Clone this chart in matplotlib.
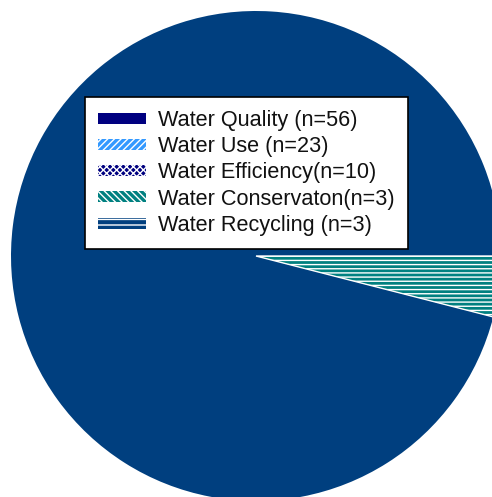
import matplotlib
matplotlib.use("Agg")
import matplotlib.pyplot as plt
from matplotlib.patches import Patch

# Legend categories and counts
categories = ["Water Quality", "Water Use", "Water Efficiency", "Water Conservaton", "Water Recycling"]
counts = [56, 23, 10, 3, 3]
legend_labels = ["Water Quality (n=56)", "Water Use (n=23)", "Water Efficiency(n=10)",
                 "Water Conservaton(n=3)", "Water Recycling (n=3)"]

# Visible slices (percent of the circle)
slice_names = ["Other", "Water Conservaton"]
slice_pct = [96.0, 4.0]

plt.rcParams['font.family'] = ['Liberation Sans', 'DejaVu Sans']
plt.rcParams['hatch.linewidth'] = 1.0

W, H = 492, 497
fig = plt.figure(figsize=(W / 100, H / 100), dpi=100)
ax = fig.add_axes([0, 0, 1, 1])

R = 245.0
cx, cy = 256.0, 256.0  # pixel position of centre from top-left

wedges, _ = ax.pie(slice_pct, startangle=0, counterclock=True, radius=1,
                   colors=["#003F7F", "#008080"],
                   wedgeprops=dict(linewidth=0))
wedges[1].set_hatch("----")
wedges[1].set_edgecolor("white")
wedges[1].set_linewidth(1.0)

ax.set_xlim(-cx / R, (W - cx) / R)
ax.set_ylim(-(H - cy) / R, cy / R)
ax.set_aspect('auto')
ax.axis('off')

handle_styles = [
    dict(facecolor="#000080", hatch=None),
    dict(facecolor="#3399FF", hatch="/////"),
    dict(facecolor="#000080", hatch="xxxxx"),
    dict(facecolor="#008080", hatch="\\\\\\\\\\"),
    dict(facecolor="#003F7F", hatch="---"),
]
handles = []
for lab, st in zip(legend_labels, handle_styles):
    p = Patch(facecolor=st["facecolor"], edgecolor="white", hatch=st["hatch"],
              linewidth=0, label=lab)
    handles.append(p)

leg = fig.legend(handles=handles, loc="upper left",
                 bbox_to_anchor=(85 / W, 1 - 97 / H), bbox_transform=fig.transFigure,
                 borderaxespad=0, fontsize=15.6, frameon=True, fancybox=False,
                 framealpha=1, edgecolor="black", handlelength=2.2, handleheight=0.4,
                 handletextpad=0.57, labelspacing=0.24, borderpad=0.6)
leg.get_frame().set_linewidth(1.2)
for t in leg.get_texts():
    t.set_color("#111111")

fig.savefig("out.png", dpi=100)
